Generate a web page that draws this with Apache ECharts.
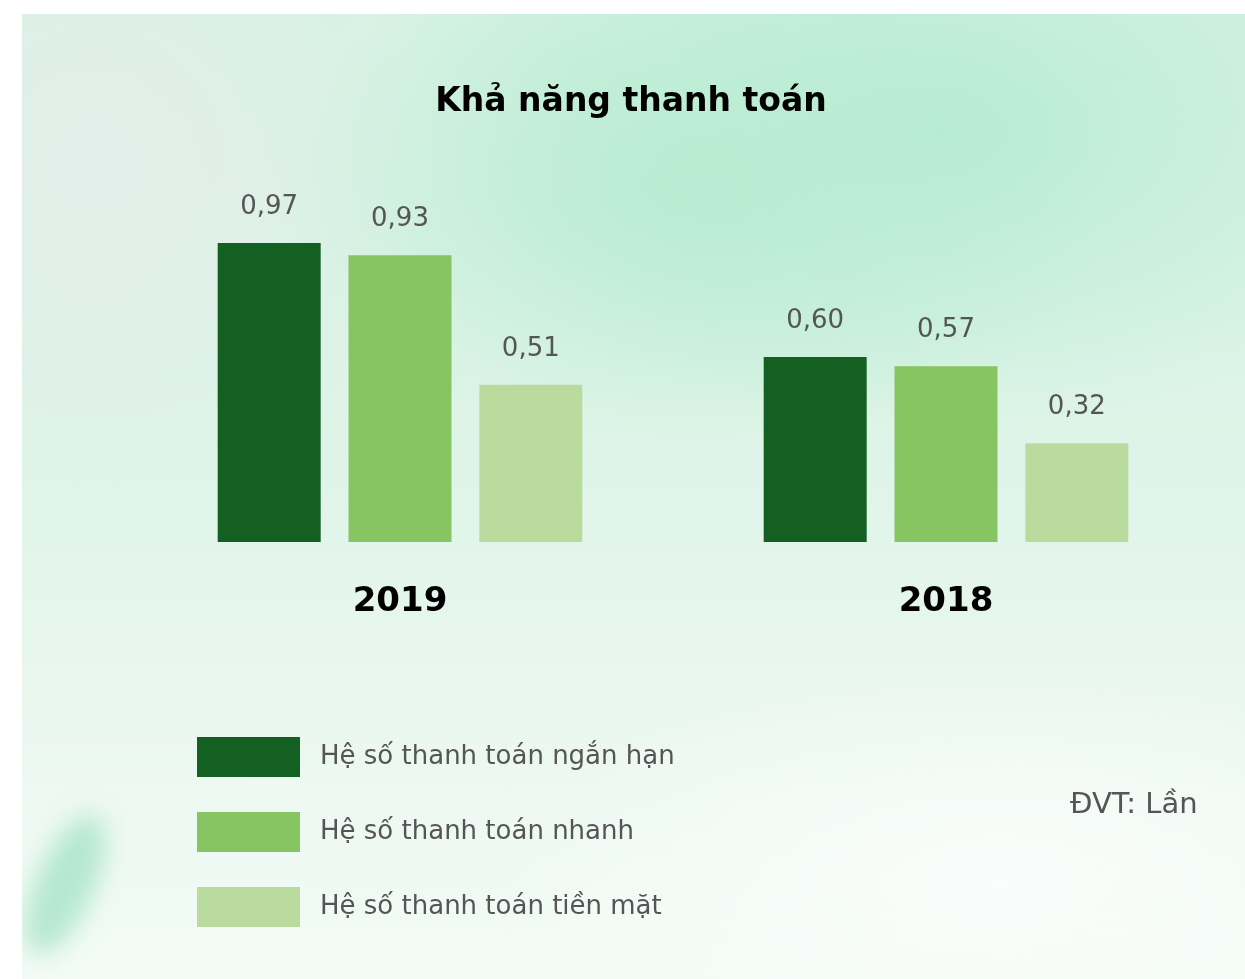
<!DOCTYPE html>
<html>
<head>
<meta charset="utf-8">
<script src="https://cdn.jsdelivr.net/npm/echarts@6/dist/echarts.min.js"></script>
<style>
  html, body { margin:0; padding:0; background:#ffffff; width:1245px; height:979px; overflow:hidden; }
  #bg { position:absolute; left:22px; top:14px; width:1223px; height:965px; overflow:hidden;
    background:
      radial-gradient(ellipse 520px 300px at 75% 12%, rgba(184,236,210,1), rgba(184,236,210,0) 100%),
      radial-gradient(ellipse 420px 260px at 55% 18%, rgba(178,234,206,0.8), rgba(178,234,206,0) 100%),
      radial-gradient(ellipse 360px 360px at 6% 15%, rgba(228,238,234,0.9), rgba(228,238,234,0) 100%),
      radial-gradient(ellipse 500px 220px at 80% 90%, rgba(250,253,251,1), rgba(250,253,251,0) 100%),
      linear-gradient(to bottom, #d6f2e3 0%, #def4e8 45%, #e9f7ef 70%, #f3fbf6 100%);
  }
  #blob { position:absolute; left:14px; top:796px; width:58px; height:150px; border-radius:50%;
    background: rgba(150,222,188,0.65); filter: blur(12px); transform: rotate(24deg); }
  #chart { position:absolute; left:0; top:0; width:1245px; height:979px; }
</style>
</head>
<body>
<div id="bg"><div id="blob"></div></div>
<div id="chart"></div>
<script>
const categories = ['2019', '2018'];
const seriesNames = ['Hệ số thanh toán ngắn hạn', 'Hệ số thanh toán nhanh', 'Hệ số thanh toán tiền mặt'];
const nganHan = [0.97, 0.60];
const nhanh = [0.93, 0.57];
const tienMat = [0.51, 0.32];
const colors = ['#136022', '#86c562', '#b9dc9e'];
const titleText = 'Khả năng thanh toán';
const unitText = 'ĐVT: Lần';

const FONT = '"DejaVu Sans", Verdana, sans-serif';
const fmt = p => p.value.toFixed(2).replace('.', ',');

function bar(name, data, color) {
  return {
    name, type: 'bar', data,
    barWidth: 103, barGap: '27%',
    itemStyle: { color },
    label: { show: true, position: 'top', distance: 23, formatter: fmt,
      color: '#555555', fontSize: 26, fontFamily: FONT }
  };
}

const chart = echarts.init(document.getElementById('chart'), null, { renderer: 'canvas' });
chart.setOption({
  backgroundColor: 'transparent',
  animation: false,
  title: {
    text: titleText, left: 626, top: 81, textAlign: 'center',
    textStyle: { fontFamily: FONT, fontWeight: 'bold', fontSize: 33, color: '#000000' }
  },
  grid: { left: 127, right: 26, top: 172, bottom: 437 },
  xAxis: {
    type: 'category', data: categories,
    axisLine: { show: false }, axisTick: { show: false },
    axisLabel: { margin: 43, fontFamily: FONT, fontWeight: 'bold', fontSize: 34, color: '#000000' }
  },
  yAxis: { type: 'value', min: 0, max: 1.2, show: false, splitLine: { show: false } },
  legend: {
    orient: 'vertical', left: 192, top: 732,
    itemWidth: 103, itemHeight: 40, itemGap: 35, icon: 'rect',
    textStyle: { fontFamily: FONT, fontSize: 26, color: '#555555', padding: [0, 0, 0, 15] },
    data: seriesNames
  },
  graphic: [{
    type: 'text', left: 1070, top: 791,
    style: { text: unitText, font: '29px ' + FONT, fill: '#555555' }
  }],
  series: [
    bar(seriesNames[0], nganHan, colors[0]),
    bar(seriesNames[1], nhanh, colors[1]),
    bar(seriesNames[2], tienMat, colors[2])
  ]
});
</script>
</body>
</html>
